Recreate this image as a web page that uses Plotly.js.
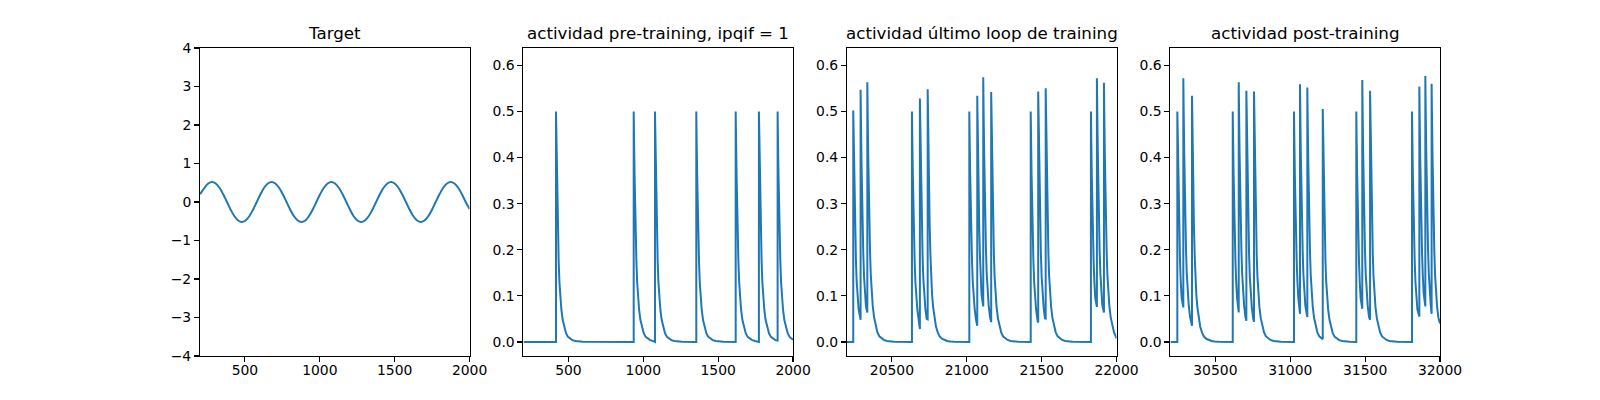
<!DOCTYPE html>
<html>
<head>
<meta charset="utf-8">
<script src="https://cdn.plot.ly/plotly-3.0.1.min.js"></script>
<style>
  body { margin: 0; background: #fff; }
  #chart { width: 1600px; height: 400px; }
</style>
</head>
<body>
<div id="chart"></div>
<script>
// Target signal (peaks ~0.52, period ~398)
const targetX = [200, 215, 230, 255, 280, 305, 330, 355, 380, 405, 430, 455, 479, 504, 529, 554,
    579, 604, 628, 653, 678, 703, 728, 753, 778, 803, 828, 853, 878, 903, 927, 952,
    977, 1002, 1027, 1052, 1077, 1102, 1127, 1152, 1177, 1202, 1226, 1251, 1276, 1301, 1326, 1351,
    1376, 1401, 1426, 1451, 1475, 1500, 1525, 1550, 1575, 1600, 1625, 1650, 1674, 1699, 1724, 1749,
    1774, 1799, 1824, 1849, 1874, 1899, 1924, 1949, 1974, 2000];
const targetY = [0.2, 0.29, 0.37, 0.48, 0.52, 0.48, 0.37, 0.2, 0.0, -0.2, -0.37, -0.48, -0.52, -0.48, -0.37, -0.2,
    0.0, 0.2, 0.37, 0.48, 0.52, 0.48, 0.37, 0.2, 0.0, -0.2, -0.37, -0.48, -0.52, -0.48, -0.37, -0.2,
    0.0, 0.2, 0.37, 0.48, 0.52, 0.48, 0.37, 0.2, 0.0, -0.2, -0.37, -0.48, -0.52, -0.48, -0.37, -0.2,
    0.0, 0.2, 0.37, 0.48, 0.52, 0.48, 0.37, 0.2, 0.0, -0.2, -0.37, -0.48, -0.52, -0.48, -0.37, -0.2,
    0.0, 0.2, 0.37, 0.48, 0.52, 0.48, 0.37, 0.2, 0.0, -0.18];

// Spike trains: spike time, peak value, value just before the spike
const preTimes = [417, 936, 1078, 1354, 1617, 1772, 1897];
const prePeaks = [0.5, 0.5, 0.5, 0.5, 0.5, 0.5, 0.5];
const preTroughs = [0, 0, 0, 0, 0, 0, 0.003];
const preEnd = 0.005;

const lastTimes = [20242, 20291, 20336, 20634, 20687, 20739, 21017, 21070, 21110, 21163,
    21427, 21477, 21527, 21829, 21869, 21916];
const lastPeaks = [0.502, 0.547, 0.563, 0.5, 0.528, 0.548, 0.5, 0.534, 0.574, 0.542,
    0.5, 0.543, 0.55, 0.5, 0.572, 0.562];
const lastTroughs = [0, 0.048, 0.064, 0, 0.028, 0.049, 0, 0.035, 0.077, 0.043,
    0, 0.042, 0.051, 0, 0.076, 0.064];
const lastEnd = 0.008;

const postTimes = [30246, 30286, 30344, 30616, 30656, 30707, 30758, 31025, 31065, 31114, 31217,
    31441, 31481, 31533, 31813, 31862, 31902, 31944];
const postPeaks = [0.5, 0.572, 0.534, 0.5, 0.563, 0.545, 0.543, 0.5, 0.559, 0.552, 0.505,
    0.5, 0.568, 0.545, 0.5, 0.554, 0.577, 0.56];
const postTroughs = [0, 0.075, 0.035, 0, 0.064, 0.046, 0.044, 0, 0.061, 0.054, 0.006,
    0, 0.072, 0.048, 0, 0.055, 0.077, 0.061];
const postEnd = 0.04;

// Shape of the decay after a spike (offset in time, fraction of the peak), read from isolated spikes
const decayOffsets = [3, 6, 9, 13, 18, 23, 29, 36, 45, 55, 67, 80, 95, 110, 130, 150, 180, 220];
const decayFractions = [0.85, 0.72, 0.6, 0.47, 0.35, 0.26, 0.19, 0.14, 0.095, 0.062, 0.038, 0.022,
    0.013, 0.008, 0.004, 0.002, 0.0007, 0];

const titles = ['Target', 'actividad pre-training, ipqif = 1',
    'actividad último loop de training', 'actividad post-training'];
const xRanges = [[200, 2000], [200, 2000], [20200, 22000], [30200, 32000]];
const xTicks = [[500, 1000, 1500, 2000], [500, 1000, 1500, 2000],
    [20500, 21000, 21500, 22000], [30500, 31000, 31500, 32000]];
const targetYTicks = [-4, -3, -2, -1, 0, 1, 2, 3, 4];
const activityYTicks = [0, 0.1, 0.2, 0.3, 0.4, 0.5, 0.6];

function buildTrain(times, peaks, troughs, endValue, range) {
    const xs = [range[0], times[0]];
    const ys = [0, troughs[0]];
    for (let i = 0; i < times.length; i++) {
        const t = times[i];
        xs.push(t);
        ys.push(peaks[i]);
        const nextT = i + 1 < times.length ? times[i + 1] : range[1];
        const nextV = i + 1 < times.length ? troughs[i + 1] : endValue;
        for (let k = 0; k < decayOffsets.length; k++) {
            const v = peaks[i] * decayFractions[k];
            if (t + decayOffsets[k] < nextT - 4 && v > nextV) {
                xs.push(t + decayOffsets[k]);
                ys.push(v);
            }
        }
        xs.push(nextT);
        ys.push(nextV);
    }
    return { x: xs, y: ys };
}

const trains = [
    { x: targetX, y: targetY, shape: 'spline' },
    Object.assign(buildTrain(preTimes, prePeaks, preTroughs, preEnd, xRanges[1]), { shape: 'linear' }),
    Object.assign(buildTrain(lastTimes, lastPeaks, lastTroughs, lastEnd, xRanges[2]), { shape: 'linear' }),
    Object.assign(buildTrain(postTimes, postPeaks, postTroughs, postEnd, xRanges[3]), { shape: 'linear' })
];

const W = 1600, H = 400;
const axW = 269.57, gap = 53.91, axLeft = 200;
const yDomain = [1 - 356 / H, 1 - 48 / H];
const font = { family: 'DejaVu Sans, sans-serif', size: 13.9, color: '#000' };

const data = [];
const layout = {
    width: W, height: H,
    margin: { l: 0, r: 0, t: 0, b: 0 },
    paper_bgcolor: '#fff', plot_bgcolor: '#fff',
    showlegend: false,
    font: font,
    annotations: []
};

trains.forEach((tr, i) => {
    const n = i === 0 ? '' : String(i + 1);
    const x0 = (axLeft + i * (axW + gap)) / W;
    const x1 = (axLeft + i * (axW + gap) + axW) / W;
    data.push({
        x: tr.x, y: tr.y, type: 'scatter', mode: 'lines',
        xaxis: 'x' + n, yaxis: 'y' + n,
        line: { color: '#1f77b4', width: 2, shape: tr.shape, smoothing: 1 },
        hoverinfo: 'skip'
    });
    const common = {
        showline: true, mirror: true, linecolor: '#000', linewidth: 1.1,
        ticks: 'outside', ticklen: 4.9, tickwidth: 1.1, tickcolor: '#000',
        showgrid: false, zeroline: false, tickfont: font
    };
    layout['xaxis' + n] = Object.assign({}, common, {
        domain: [x0, x1], range: xRanges[i], anchor: 'y' + n,
        tickmode: 'array', tickvals: xTicks[i], tickformat: 'd',
        ticklabelstandoff: -4
    });
    layout['yaxis' + n] = Object.assign({}, common, {
        domain: yDomain, anchor: 'x' + n,
        range: i === 0 ? [-4, 4] : [-0.0304, 0.6375],
        tickmode: 'array',
        tickvals: i === 0 ? targetYTicks : activityYTicks,
        tickformat: i === 0 ? 'd' : '.1f'
    });
    layout.annotations.push({
        text: titles[i], xref: 'paper', yref: 'paper',
        x: (x0 + x1) / 2, y: 1 - 45 / H, xanchor: 'center', yanchor: 'bottom',
        showarrow: false, font: { family: font.family, size: 16.7, color: '#000' }
    });
});

Plotly.newPlot('chart', data, layout, { staticPlot: true, displayModeBar: false });
</script>
</body>
</html>
